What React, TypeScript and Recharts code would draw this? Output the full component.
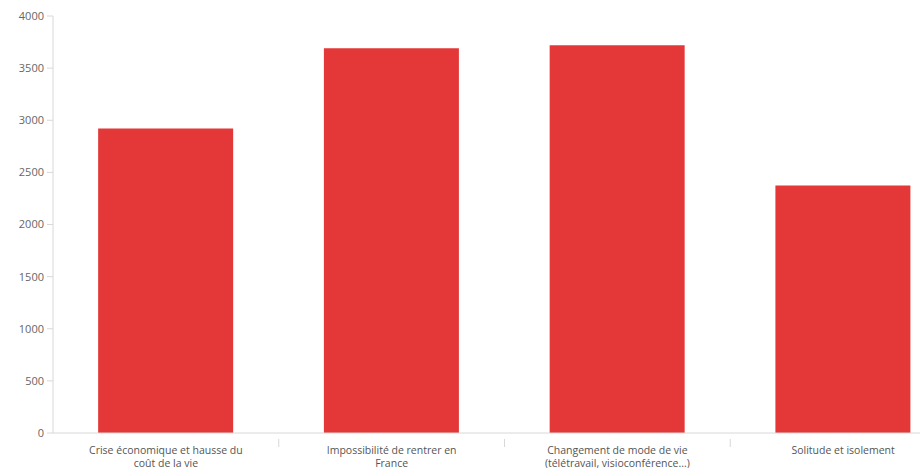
import { BarChart, Bar, XAxis, YAxis } from "recharts";

const categories = [
  "Crise économique et hausse du\ncoût de la vie",
  "Impossibilité de rentrer en\nFrance",
  "Changement de mode de vie\n(télétravail, visioconférence...)",
  "Solitude et isolement",
];
const values = [2920, 3690, 3720, 2375];
const yTicks = [0, 500, 1000, 1500, 2000, 2500, 3000, 3500, 4000];

const data = categories.map((name, i) => ({ name, value: values[i] }));

const W = 956;
const H = 468;
const AXIS_W = 53;
const BAND = (W - AXIS_W) / categories.length;

function CategoryTick(props: any) {
  const { x, y, payload, index } = props;
  const lines = String(payload.value).split("\n");
  return (
    <g>
      {index > 0 && (
        <line
          x1={x - BAND / 2}
          x2={x - BAND / 2}
          y1={y - 2}
          y2={y + 6}
          stroke="#d8d8d8"
        />
      )}
      <text
        x={x}
        y={y + 13}
        textAnchor="middle"
        fill="#555"
        fontSize={10.5}
        fontFamily="'Open Sans', sans-serif"
      >
        {lines.map((l, i) => (
          <tspan key={i} x={x} dy={i === 0 ? 0 : 13}>
            {l}
          </tspan>
        ))}
      </text>
    </g>
  );
}

export default function App() {
  return (
    <div
      style={{
        position: "fixed",
        left: 0,
        top: 0,
        width: 920,
        height: 468,
        overflow: "hidden",
        background: "#fff",
      }}
    >
      <BarChart
        width={W}
        height={H}
        data={data}
        margin={{ top: 16, right: 0, bottom: 0, left: 0 }}
        barCategoryGap="20%"
      >
        <XAxis
          dataKey="name"
          interval={0}
          height={35}
          tickLine={false}
          axisLine={{ stroke: "#d8d8d8" }}
          tick={<CategoryTick />}
        />
        <YAxis
          width={AXIS_W}
          domain={[0, 4000]}
          ticks={yTicks}
          tickSize={6}
          tickMargin={3}
          tickLine={{ stroke: "#d8d8d8" }}
          axisLine={{ stroke: "#d8d8d8" }}
          tick={{ fill: "#666", fontSize: 11, fontFamily: "'Open Sans', sans-serif" }}
        />
        <Bar dataKey="value" fill="#e43737" isAnimationActive={false} />
      </BarChart>
    </div>
  );
}
